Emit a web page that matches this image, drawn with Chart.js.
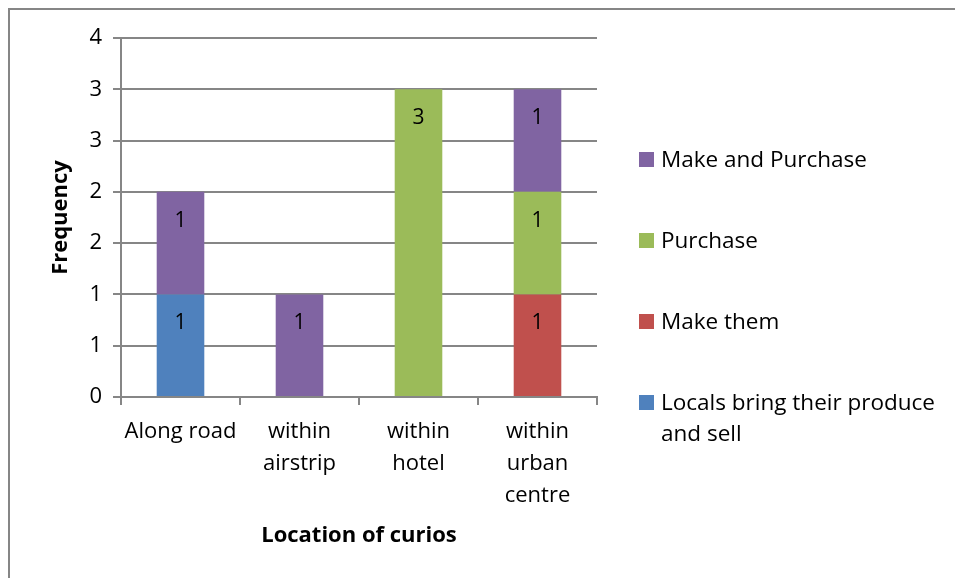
<!DOCTYPE html>
<html>
<head>
<meta charset="utf-8">
<script src="https://cdn.jsdelivr.net/npm/chart.js@4.4.1/dist/chart.umd.min.js"></script>
<style>
  html, body { margin: 0; padding: 0; background: #fff; overflow: hidden; }
  #wrap { position: relative; width: 955px; height: 578px; }
  #frame { position: absolute; left: 8px; top: 8px; width: 1000px; height: 700px; border: 2px solid #868686; box-sizing: border-box; }
  canvas { position: absolute; left: 0; top: 0; }
  #legend { position: absolute; left: 639px; top: 143px; width: 310px; font-family: "Open Sans", sans-serif; font-size: 22.5px; color: #000; }
  .item { position: relative; padding-left: 22px; line-height: 31px; margin-bottom: 50px; white-space: normal; }
  .box { position: absolute; left: 0; top: 9px; width: 15px; height: 15px; }
</style>
</head>
<body>
<div id="wrap">
  <div id="frame"></div>
  <canvas id="chart" width="955" height="578"></canvas>
  <div id="legend"></div>
</div>
<script>
// Kategóriák és sorozatok
const categories = [['Along road'], ['within', 'airstrip'], ['within', 'hotel'], ['within', 'urban', 'centre']];
const seriesNames = ['Locals bring their produce and sell', 'Make them', 'Purchase', 'Make and Purchase'];
const localsValues = [1, 0, 0, 0];
const makeThemValues = [0, 0, 0, 1];
const purchaseValues = [0, 0, 3, 1];
const makePurchaseValues = [1, 1, 0, 1];
const seriesColors = ['#4F81BD', '#C0504D', '#9BBB59', '#8064A2'];

const FONT = '"Open Sans", sans-serif';
const GRID = '#868686';

// Értékcímkék a szegmensek tetején belül
const valueLabels = {
    id: 'valueLabels',
    afterDatasetsDraw(chart) {
        const ctx = chart.ctx;
        ctx.save();
        ctx.font = '21px ' + FONT;
        ctx.fillStyle = '#000';
        ctx.textAlign = 'center';
        ctx.textBaseline = 'middle';
        chart.data.datasets.forEach((ds, i) => {
            const meta = chart.getDatasetMeta(i);
            meta.data.forEach((bar, j) => {
                const v = ds.data[j];
                if (!v) return;
                ctx.fillText(String(v), bar.x, bar.y + 29);
            });
        });
        ctx.restore();
    }
};

const allValues = [localsValues, makeThemValues, purchaseValues, makePurchaseValues];

const chart = new Chart(document.getElementById('chart'), {
    type: 'bar',
    data: {
        labels: categories,
        datasets: seriesNames.map((name, i) => ({
            label: name,
            data: allValues[i],
            backgroundColor: seriesColors[i],
            borderWidth: 0,
            categoryPercentage: 1,
            barPercentage: 0.4
        }))
    },
    options: {
        responsive: false,
        animation: false,
        layout: { padding: { left: 0, top: 38, right: 358, bottom: 0 } },
        plugins: {
            legend: { display: false },
            tooltip: { enabled: false }
        },
        scales: {
            x: {
                stacked: true,
                afterFit: s => { s.height = 181; },
                grid: { display: true, drawOnChartArea: false, offset: true, color: GRID, lineWidth: 2, tickLength: 8 },
                border: { display: true, color: GRID, width: 2 },
                ticks: { color: '#000', font: { family: FONT, size: 22, lineHeight: 1.45 }, padding: 11, maxRotation: 0 },
                title: { display: true, text: 'Location of curios', color: '#000', font: { family: FONT, size: 22, weight: 'bold' }, padding: { top: 0, bottom: 29 } }
            },
            y: {
                stacked: true,
                min: 0,
                max: 3.5,
                afterFit: s => { s.width = 121; },
                grid: { color: GRID, lineWidth: 2, tickLength: 8 },
                border: { display: true, color: GRID, width: 2 },
                ticks: { stepSize: 0.5, color: '#000', font: { family: FONT, size: 22 }, padding: 11, callback: v => Math.round(v) },
                title: { display: true, text: 'Frequency', color: '#000', font: { family: FONT, size: 22, weight: 'bold' }, padding: { top: 48, bottom: 0 } }
            }
        }
    },
    plugins: [valueLabels]
});

// Jelmagyarázat fordított sorrendben
const legend = document.getElementById('legend');
chart.data.datasets.slice().reverse().forEach(ds => {
    const item = document.createElement('div');
    item.className = 'item';
    const box = document.createElement('span');
    box.className = 'box';
    box.style.background = ds.backgroundColor;
    item.appendChild(box);
    item.appendChild(document.createTextNode(ds.label));
    legend.appendChild(item);
});
</script>
</body>
</html>
